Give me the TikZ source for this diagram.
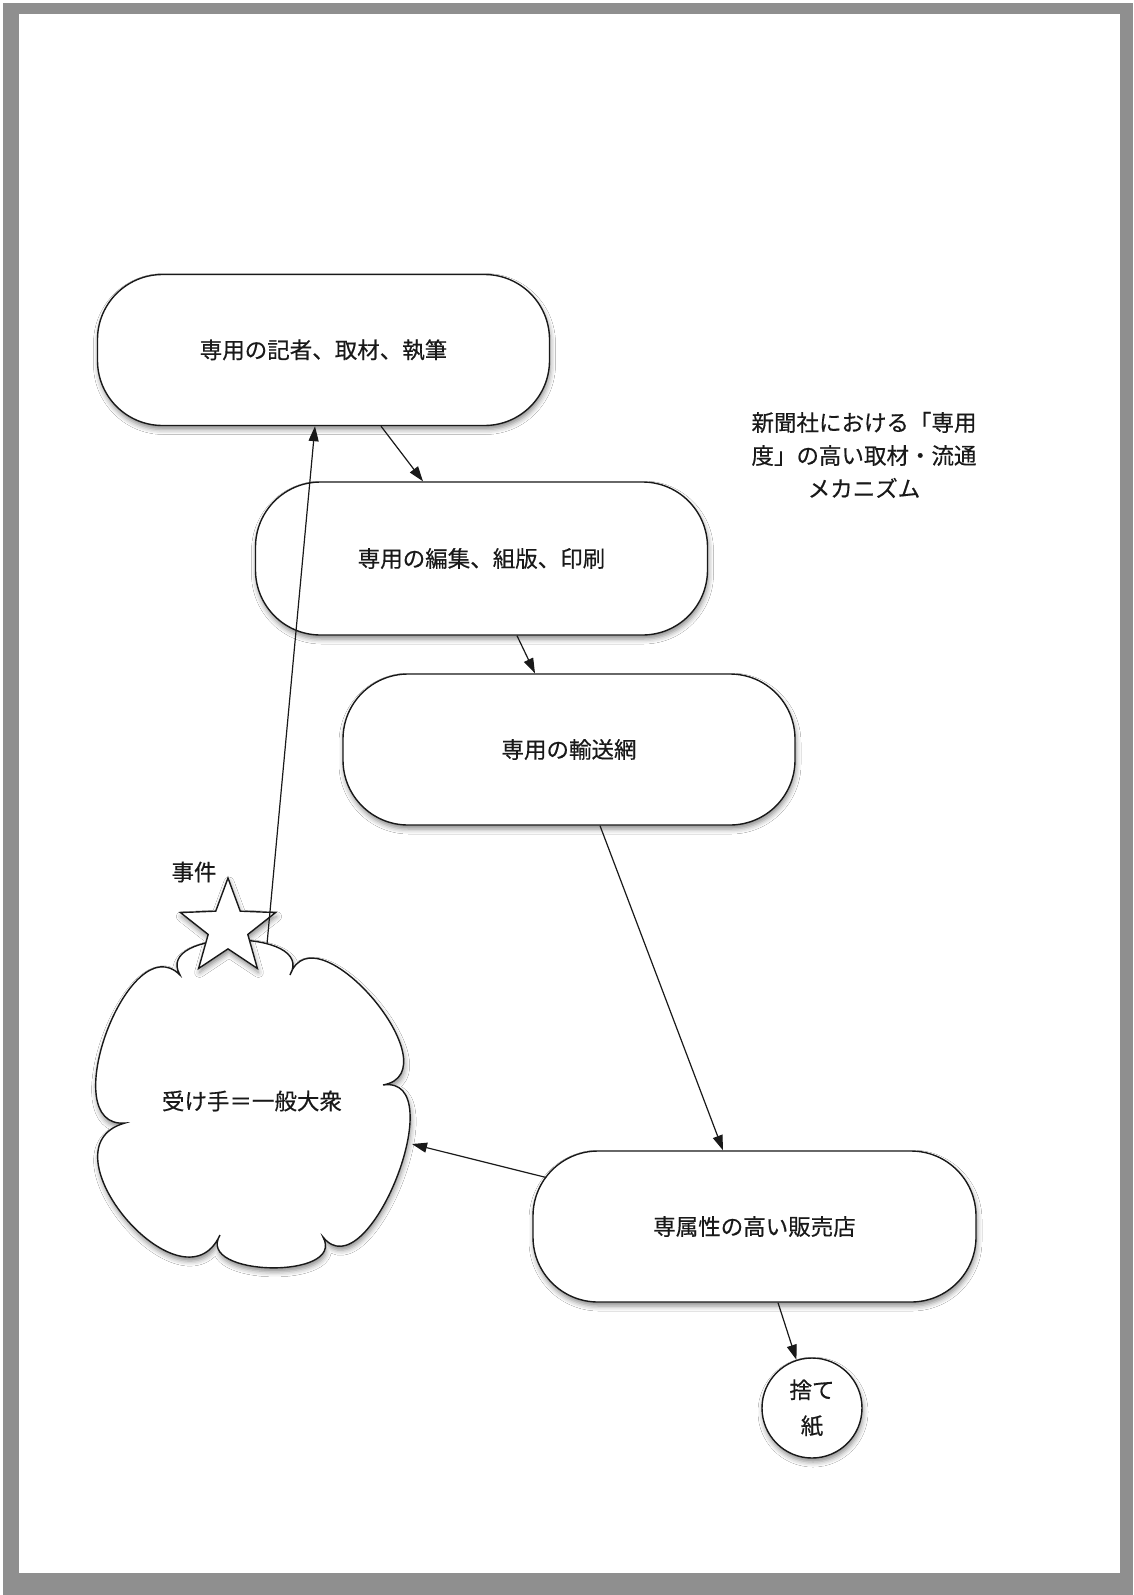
\documentclass[tikz,border=0pt]{standalone}
\usepackage{fontspec}
\setmainfont{Noto Sans CJK JP}[FakeBold=0.4]
\usetikzlibrary{shapes.geometric,arrows.meta,calc,shadows.blur}
\definecolor{framegray}{RGB}{143,143,143}
\definecolor{ink}{RGB}{25,25,25}
\begin{document}
\begin{tikzpicture}[x=1pt,y=1pt,
  every node/.style={font=\fontsize{22.5pt}{33pt}\selectfont, text=ink},
  softshadow/.style={blur shadow={shadow xshift=1pt,shadow yshift=-4pt,shadow blur radius=5pt,shadow opacity=45}},
  procbox/.style={draw=ink, line width=1.4pt, fill=white, rectangle, rounded corners=65pt,
    minimum width=452pt, minimum height=151pt, inner sep=0pt, softshadow},
  flow/.style={draw=ink, line width=1.2pt, -{Triangle[length=15pt,width=10pt]}},
  shapeline/.style={draw=ink, line width=1.4pt, fill=white, softshadow},
]
\useasboundingbox (0,0) rectangle (1133,-1595);
\fill[white] (0,0) rectangle (1133,-1595);
\fill[framegray] (3,-3) rectangle (1133,-1595);
\fill[white] (19,-14) rectangle (1120,-1573);

% process nodes
\node[procbox] (n1) at (323.5,-350) {専用の記者、取材、執筆};
\node[procbox, minimum height=153pt] (n2) at (481.5,-558.5) {専用の編集、組版、印刷};
\node[procbox] (n3) at (569,-749.5) {専用の輸送網};
\node[procbox, minimum width=443pt] (n4) at (754.5,-1226.5) {専属性の高い販売店};
\node[circle, shapeline, minimum size=100pt, inner sep=0pt, align=center,
      font=\fontsize{22.5pt}{36pt}\selectfont] (c) at (812,-1408) {捨て\\紙};

% cloud
\coordinate (C1) at (125,-1123);
\coordinate (C2) at (180,-975);
\coordinate (C3) at (290,-975);
\coordinate (C4) at (383,-1085);
\coordinate (C5) at (323,-1237);
\coordinate (C6) at (220,-1235);
\path[shapeline]
  (C1) .. controls ($(C1)!72pt!115:(C2)$) and ($(C2)!72pt!-115:(C1)$) .. (C2)
       .. controls ($(C2)!54pt!120:(C3)$) and ($(C3)!54pt!-120:(C2)$) .. (C3)
       .. controls ($(C3)!74pt!120:(C4)$) and ($(C4)!74pt!-120:(C3)$) .. (C4)
       .. controls ($(C4)!72pt!120:(C5)$) and ($(C5)!72pt!-120:(C4)$) .. (C5)
       .. controls ($(C5)!49pt!120:(C6)$) and ($(C6)!49pt!-120:(C5)$) .. (C6)
       .. controls ($(C6)!90pt!115:(C1)$) and ($(C1)!90pt!-115:(C6)$) .. (C1) -- cycle;
\node (cl) at (252,-1101) {受け手＝一般大衆};
\coordinate (cT) at (267,-944);
\coordinate (cR) at (412,-1144);

% star and labels
\node[star, star points=5, star point ratio=2.4, minimum size=100pt, inner sep=0pt, shapeline] (st) at (228,-928) {};
\node (ev) at (194,-872) {事件};
\node[align=center] (title) at (864,-455) {新聞社における「専用\\度」の高い取材・流通\\メカニズム};

% connectors
\draw[flow] ([xshift=57.5pt]n1.south) -- ([xshift=-58.5pt]n2.north);
\draw[flow] ([xshift=35.5pt]n2.south) -- ([xshift=-34pt]n3.north);
\draw[flow] ([xshift=31pt]n3.south) -- ([xshift=-31.5pt]n4.north);
\draw[flow] ([xshift=14pt,yshift=49pt]n4.west) -- (cR);
\draw[flow] ([xshift=23.5pt]n4.south) -- (c);
\draw[flow] (cT) -- ([xshift=-8.5pt]n1.south);
\end{tikzpicture}
\end{document}
